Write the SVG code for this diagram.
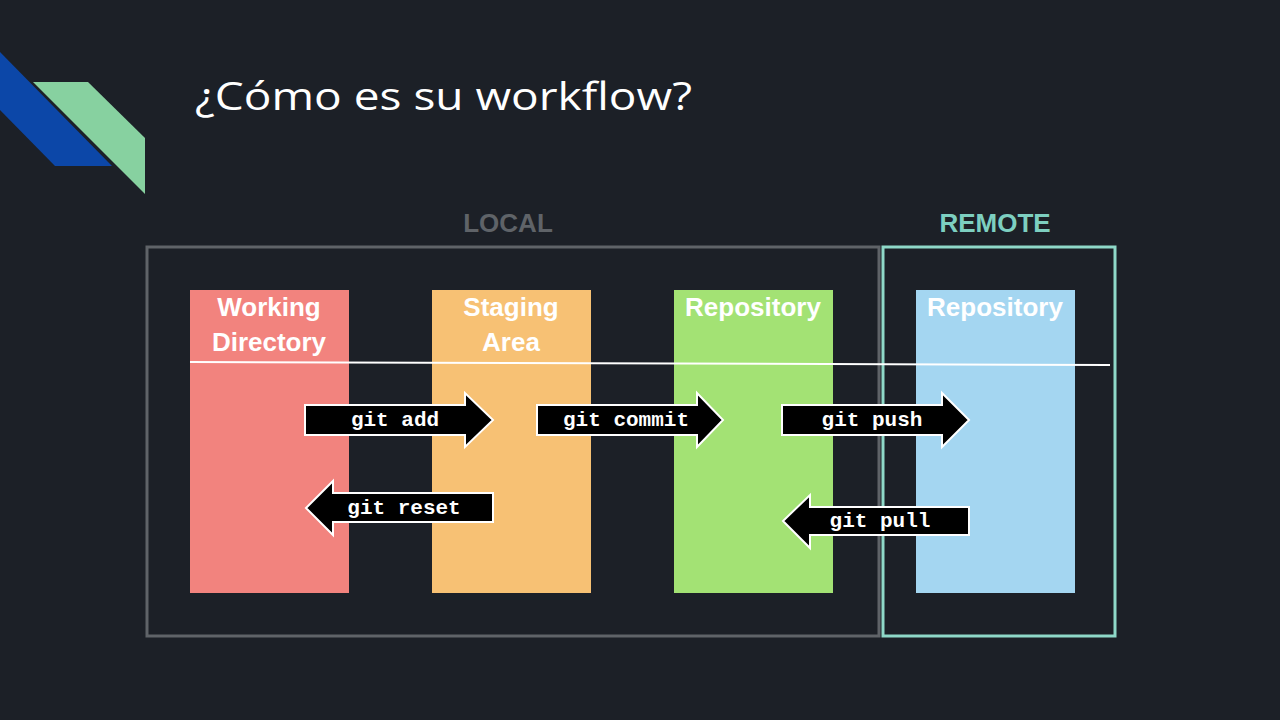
<svg xmlns="http://www.w3.org/2000/svg" width="1280" height="720" viewBox="0 0 1280 720">
<style>
.col{font-family:"Liberation Sans",Arial,sans-serif;font-weight:bold;font-size:26px;fill:#fff;text-anchor:middle}
.hd{font-family:"Liberation Sans",Arial,sans-serif;font-weight:bold;font-size:26px;text-anchor:middle}
.arr{fill:#000;stroke:#fff;stroke-width:2}
.cmd{font-family:"Liberation Mono",monospace;font-weight:bold;font-size:21px;fill:#fff;text-anchor:middle}
</style>
<rect width="1280" height="720" fill="#1c2027"/>
<polygon points="0,52 112,166 55,166 0,110" fill="#0c47a8"/>
<polygon points="33,82 88,82 145,138 145,194" fill="#87d1a0"/>
<text x="195" y="110" font-family="Open Sans,Liberation Sans,sans-serif" font-size="38" fill="#fff" textLength="497" lengthAdjust="spacingAndGlyphs">¿Cómo es su workflow?</text>
<text class="hd" x="508" y="232" fill="#5f6368">LOCAL</text>
<text class="hd" x="995" y="232" fill="#7dcfc0">REMOTE</text>
<rect x="147" y="247" width="732" height="389" fill="none" stroke="#5f6368" stroke-width="3"/>
<rect x="883" y="247" width="232" height="389" fill="none" stroke="#8ed8c8" stroke-width="3"/>
<g id="wd"><rect x="190" y="290" width="159" height="303" fill="#f2837e"/><text class="col" x="269" y="316">Working</text><text class="col" x="269" y="351">Directory</text></g>
<g id="sa"><rect x="432" y="290" width="159" height="303" fill="#f7c174"/><text class="col" x="511" y="316">Staging</text><text class="col" x="511" y="351">Area</text></g>
<g id="repo"><rect x="674" y="290" width="159" height="303" fill="#a3e274"/><text class="col" x="753" y="316">Repository</text></g>
<g id="remote"><rect x="916" y="290" width="159" height="303" fill="#a4d6f1"/><text class="col" x="995" y="316">Repository</text></g>
<line x1="190" y1="362" x2="1110" y2="365" stroke="#fff" stroke-width="2"/>
<g id="connectors">
<g><polygon class="arr" points="305,405 465,405 465,393 493,420 465,447 465,435 305,435"/><text class="cmd" x="395" y="426">git add</text></g>
<g><polygon class="arr" points="537,405 697,405 697,393 723,420 697,447 697,435 537,435"/><text class="cmd" x="626" y="426">git commit</text></g>
<g><polygon class="arr" points="782,405 942,405 942,393 969,420 942,447 942,435 782,435"/><text class="cmd" x="872" y="426">git push</text></g>
<g><polygon class="arr" points="493,493 333,493 333,481 306,508 333,535 333,522 493,522"/><text class="cmd" x="404" y="514">git reset</text></g>
<g><polygon class="arr" points="969,507 810,507 810,495 783,521 810,548 810,535 969,535"/><text class="cmd" x="880" y="527">git pull</text></g>
</g>
</svg>
